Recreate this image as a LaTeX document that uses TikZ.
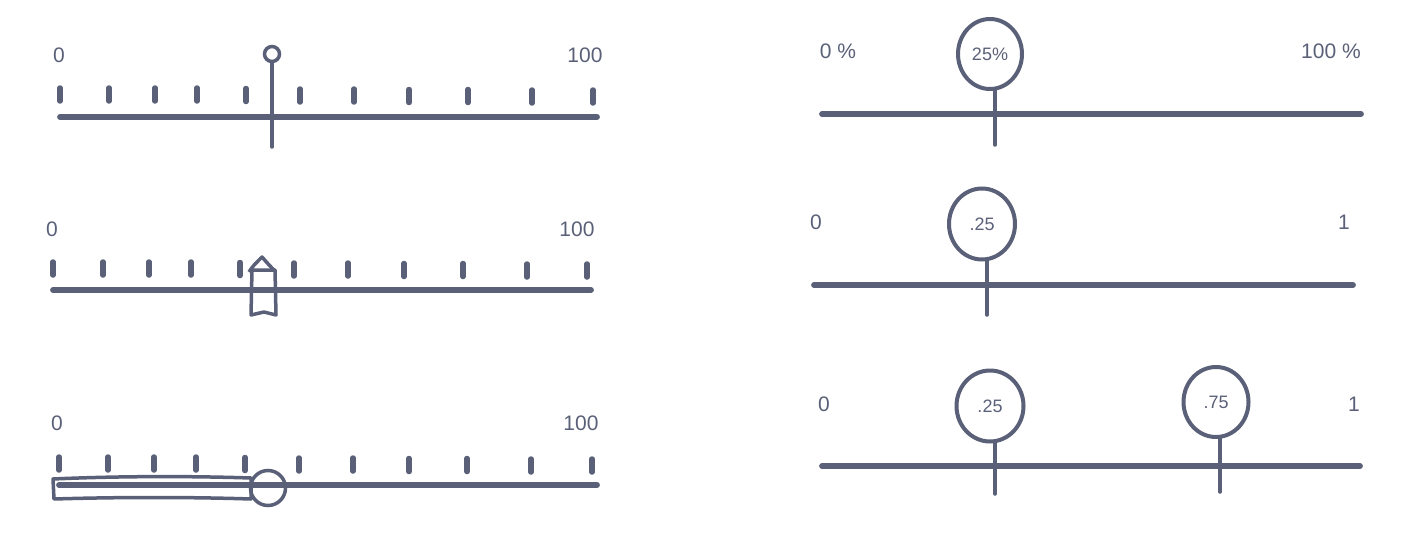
\documentclass[tikz,border=0pt]{standalone}
\usepackage{fontspec}
\setmainfont{Liberation Sans}
\usetikzlibrary{shapes.geometric}
\definecolor{ink}{RGB}{90,96,120}
\begin{document}
\begin{tikzpicture}[x=1pt,y=-1pt,
  rail/.style={draw=ink,line width=5.8pt,line cap=round},
  tick/.style={draw=ink,line width=5.5pt,line cap=round},
  stem/.style={draw=ink,line width=3.5pt,line cap=round},
  lbl/.style={text=ink,font=\fontsize{21}{23}\selectfont,inner sep=0pt},
  knob/.style={draw=ink,line width=4pt,ellipse,inner sep=0pt,text=ink,font=\fontsize{18}{20}\selectfont},
  outl/.style={draw=ink,line width=3.5pt,line join=round}]
\useasboundingbox (0,0) rectangle (1419,535);
% ---------- Panel 1 ----------
\node[lbl] (p1l0) at (59,55) {0};
\node[lbl] (p1l1) at (585,55) {100};
\coordinate (p1a) at (60,117); \coordinate (p1b) at (597,117);
\draw[rail] (p1a) -- (p1b);
\foreach \x/\d in {60/0,109/0,155/0,197/0,246/0.5,300/1,354/1,409/1.5,468/1.5,532/2,593/2}
  \draw[tick] (\x,88+\d) -- (\x,101+\d);
\node[draw=ink,line width=3.5pt,circle,minimum size=15pt,inner sep=0pt] (p1k) at (272,54) {};
\coordinate (p1s) at (272,147);
\draw[stem] (p1k.south) -- (p1s);
% ---------- Panel 2 ----------
\node[lbl] (p2l0) at (52,229) {0};
\node[lbl] (p2l1) at (577,229) {100};
\coordinate (p2a) at (53,290); \coordinate (p2b) at (591,290);
\draw[rail] (p2a) -- (p2b);
\foreach \x/\d in {53/0,103/0,149/0,191/0,240/0.5,294/1,348/1,404/1.5,463/1.5,527/2,587/2}
  \draw[tick] (\x,262+\d) -- (\x,275+\d);
\coordinate (p2top) at (262,257);
\draw[outl] (249,272) .. controls (253,266) .. (p2top) .. controls (269,265) .. (275,271);
\draw[outl] (252,270) -- (275,270) -- (276,315) -- (264,312) -- (251,315) -- cycle;
% ---------- Panel 3 ----------
\node[lbl] (p3l0) at (57,423) {0};
\node[lbl] (p3l1) at (581,423) {100};
\coordinate (p3a) at (59,485); \coordinate (p3b) at (597,485);
\draw[rail] (p3a) -- (p3b);
\foreach \x/\d in {59/0,108/0,154/0,196/0,245/0.5,299/1,353/1,409/1.5,467/1.5,531/2,592/2}
  \draw[tick] (\x,457+\d) -- (\x,470+\d);
\draw[outl] (53,479) .. controls (120,476) and (190,476) .. (251,478) -- (251,499)
  .. controls (190,497) and (120,497) .. (54,499) -- cycle;
\node[draw=ink,line width=3.5pt,circle,minimum size=35pt,inner sep=0pt] (p3k) at (268,488) {};
% ---------- Panel 4 ----------
\node[lbl] (p4l0) at (838,51) {0 \%};
\node[lbl] (p4l1) at (1331,51) {100 \%};
\coordinate (p4a) at (822,114); \coordinate (p4b) at (1361,114);
\draw[rail] (p4a) -- (p4b);
\node[knob,minimum width=64pt,minimum height=70pt] (p4k) at (990,54) {25\%};
\coordinate (p4s) at (995,145);
\draw[stem] (995,89) -- (p4s);
% ---------- Panel 5 ----------
\node[lbl] (p5l0) at (816,222) {0};
\node[lbl] (p5l1) at (1344,222) {1};
\coordinate (p5a) at (814,285); \coordinate (p5b) at (1353,285);
\draw[rail] (p5a) -- (p5b);
\node[knob,minimum width=66pt,minimum height=71pt] (p5k) at (982,224) {.25};
\coordinate (p5s) at (987,315);
\draw[stem] (987,259) -- (p5s);
% ---------- Panel 6 ----------
\node[lbl] (p6l0) at (824,404) {0};
\node[lbl] (p6l1) at (1354,404) {1};
\coordinate (p6a) at (822,466); \coordinate (p6b) at (1360,466);
\draw[rail] (p6a) -- (p6b);
\node[knob,minimum width=67pt,minimum height=71pt] (p6k) at (990,406) {.25};
\coordinate (p6s) at (995,494);
\draw[stem] (995,441) -- (p6s);
\node[knob,minimum width=65pt,minimum height=70pt] (p6m) at (1216,402) {.75};
\coordinate (p6t) at (1220,492);
\draw[stem] (1220,437) -- (p6t);
\end{tikzpicture}
\end{document}
